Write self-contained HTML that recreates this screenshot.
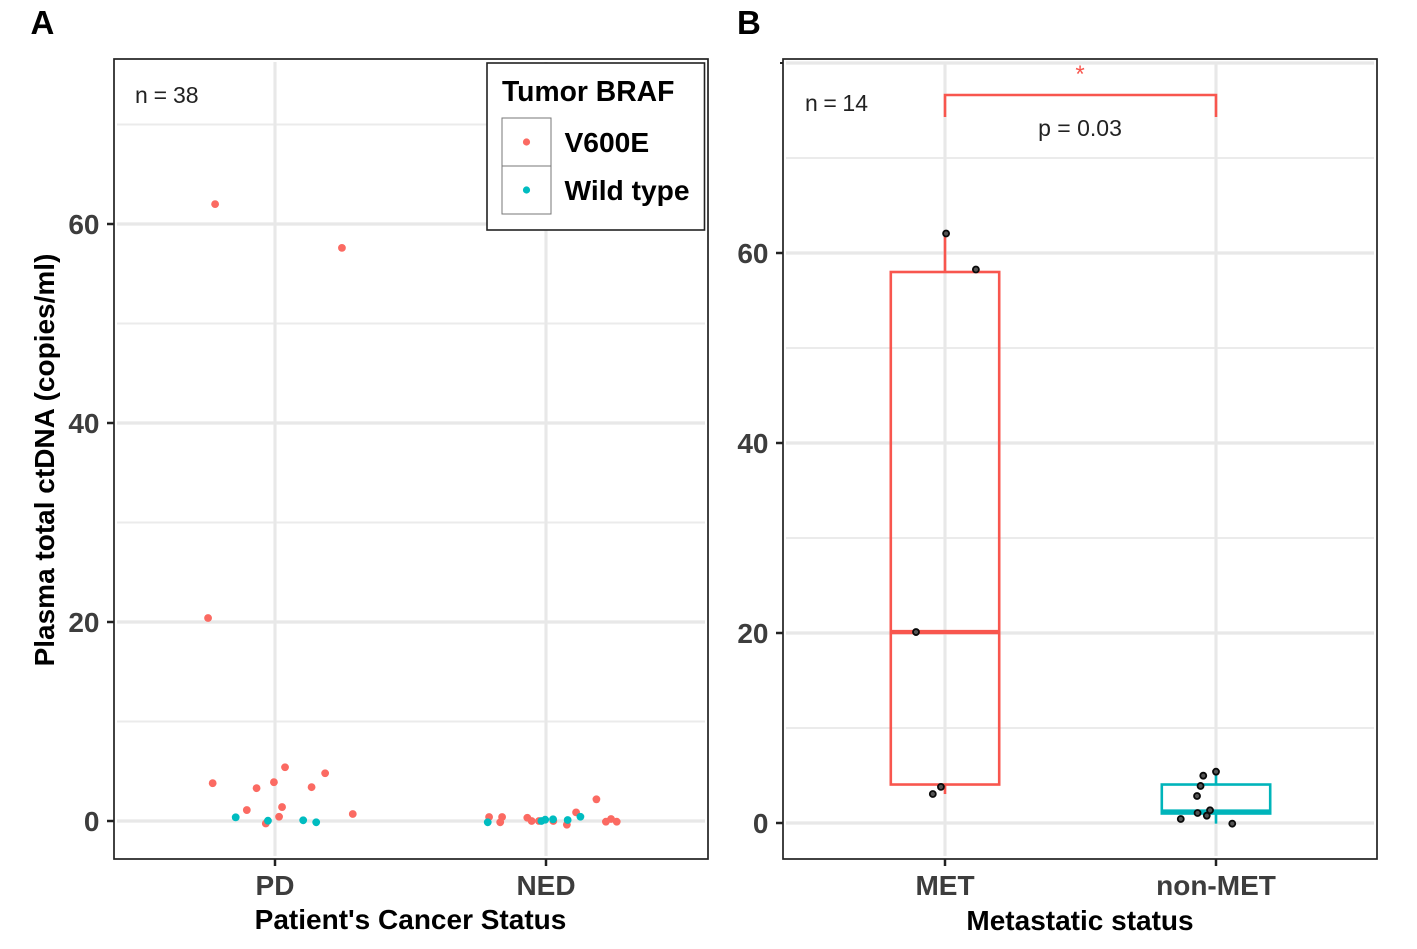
<!DOCTYPE html>
<html>
<head>
<meta charset="utf-8">
<title>Plasma total ctDNA by cancer and metastatic status</title>
<style>
html,body{margin:0;padding:0;background:#fff;}
svg{display:block;}
text{font-family:"Liberation Sans",sans-serif;}
.tick{font-weight:700;font-size:28px;fill:#3d3d3d;}
.title{font-weight:700;font-size:28px;fill:#000;}
.ann{font-size:23px;fill:#222;}
.letter{font-weight:700;font-size:33px;fill:#000;}
</style>
</head>
<body>
<svg id="fig" xmlns="http://www.w3.org/2000/svg" width="1417" height="949" viewBox="0 0 1417 949">
  <rect x="0" y="0" width="1417" height="949" fill="#fff"/>
  <text class="letter" x="30.5" y="34">A</text>
  <text class="letter" x="737" y="34">B</text>
  <g id="panelA"></g>
  <g id="panelB"></g>

  <text class="title" transform="translate(54,460) rotate(-90)" text-anchor="middle">Plasma total ctDNA (copies/ml)</text>
  <text class="title" x="410.5" y="929" text-anchor="middle">Patient's Cancer Status</text>
  <text class="title" x="1080" y="930" text-anchor="middle">Metastatic status</text>
  <text class="ann" x="135" y="103" word-spacing="-0.5">n = 38</text>
  <text class="ann" x="805" y="111" word-spacing="-0.8">n = 14</text>

  <g>
    <path d="M945 117V95H1216V117" fill="none" stroke="#f8564e" stroke-width="2.6"/>
    <text x="1080" y="82" text-anchor="middle" font-size="24" fill="#f8564e">*</text>
    <text class="ann" x="1080" y="136" text-anchor="middle">p = 0.03</text>
  </g>

  <g id="legend">
    <rect x="487" y="63" width="217.5" height="167" fill="#fff" stroke="#222" stroke-width="1.6"/>
    <text x="502" y="101" font-size="28.3" font-weight="700" fill="#000">Tumor BRAF</text>
    <rect x="502" y="118" width="49" height="48" fill="#fff" stroke="#777" stroke-width="1"/>
    <rect x="502" y="166" width="49" height="48" fill="#fff" stroke="#777" stroke-width="1"/>
    <circle cx="526.5" cy="142" r="3.6" fill="#fb6a62"/>
    <circle cx="526.5" cy="190" r="3.6" fill="#00bcc0"/>
    <text x="564.5" y="152" font-size="28.2" font-weight="700" fill="#000">V600E</text>
    <text x="564.5" y="200" font-size="28.2" font-weight="700" fill="#000">Wild type</text>
  </g>
</svg>
<script>
// Panel A data: category index, horizontal jitter (fraction of a category), copies/ml
const categoriesA = ["PD", "NED"];
const yTicks = [0, 20, 40, 60];
const minorTicksA = [10, 30, 50, 70];
const minorTicksB = [10, 30, 50, 70];
const majorExtraB = [80];

const v600eCat = [0,0,0,0,0,0,0,0,0,0,0,0,0,0,1,1,1,1,1,1,1,1,1,1,1,1,1];
const v600eJitter = [-0.23,0.037,0.185,-0.004,-0.068,0.135,0.026,-0.104,0.015,0.287,-0.034,-0.221,0.247,-0.247,-0.21,-0.162,-0.169,-0.069,-0.053,-0.026,0.027,0.077,0.111,0.186,0.221,0.24,0.261];
const v600eValues = [3.8,5.4,4.8,3.9,3.3,3.4,1.4,1.1,0.43,0.7,-0.25,62.0,57.6,20.4,0.4,0.4,-0.13,0.33,0,0,0,-0.37,0.87,2.18,-0.07,0.2,-0.07];

const wildCat = [0,0,0,0,1,1,1,1,1,1];
const wildJitter = [-0.145,-0.026,0.104,0.152,-0.215,-0.017,-0.003,0.026,0.08,0.127];
const wildValues = [0.37,0.03,0.07,-0.13,-0.13,0,0.13,0.17,0.1,0.43];

// Panel B data
const categoriesB = ["MET", "non-MET"];
const boxQ1 = [4.05, 1.0];
const boxMedian = [20.1, 1.2];
const boxQ3 = [58.0, 4.05];
const whiskerLow = [3.05, -0.07];
const whiskerHigh = [62.0, 5.4];
const boxColors = ["#f8564e", "#00b4ba"];

const pointCatB = [0,0,0,0,0,1,1,1,1,1,1,1,1,1];
const pointJitterB = [0.004,0.114,-0.107,-0.015,-0.045,0,-0.047,-0.057,-0.07,-0.068,-0.022,-0.034,-0.13,0.06];
const pointValuesB = [62.05,58.26,20.1,3.8,3.05,5.4,4.98,3.9,2.84,1.05,1.34,0.77,0.42,-0.07];

const NS = "http://www.w3.org/2000/svg";
function mk(tag, attrs, parent, text) {
  const el = document.createElementNS(NS, tag);
  for (const k in attrs) el.setAttribute(k, attrs[k]);
  if (text !== undefined) el.textContent = text;
  parent.appendChild(el);
  return el;
}
// axis functions
const xA = (cat, j) => 275 + (cat + (j || 0)) * 271;
const yA = v => 821 - v * 9.95;
const xB = (cat, j) => 945 + (cat + (j || 0)) * 271;
const yB = v => 823 - v * 9.5;

function drawPanel(g, left, right, xFn, yFn, cats, minors, majors, suffix) {
  const top = 59, bottom = 859;
  minors.forEach(v => {
    const el = mk("line", {x1: left + 3, x2: right - 3, y1: yFn(v), y2: yFn(v), stroke: "#ebebeb", "stroke-width": 2}, g);
    
    
  });
  majors.forEach(v => {
    const el = mk("line", {x1: left + 3, x2: right - 3, y1: yFn(v), y2: yFn(v), stroke: "#e8e8e8", "stroke-width": 3.2}, g);
    
    
  });
  cats.forEach((c, i) => {
    const el = mk("line", {x1: xFn(i), x2: xFn(i), y1: top + 3, y2: bottom - 3, stroke: "#e8e8e8", "stroke-width": 3.2}, g);
    
    
  });
  const frame = mk("rect", {x: left, y: top, width: right - left, height: bottom - top, fill: "none", stroke: "#222", "stroke-width": 1.7}, g);
  
  
  yTicks.forEach(v => {
    const t = mk("line", {x1: left - 7, x2: left, y1: yFn(v), y2: yFn(v), stroke: "#222", "stroke-width": 2.5}, g);
    
    
    const l = mk("text", {class: "tick", x: left - 14.5, y: yFn(v) + 10, "text-anchor": "end"}, g, String(v));
    
    
  });
  cats.forEach((c, i) => {
    const t = mk("line", {x1: xFn(i), x2: xFn(i), y1: bottom, y2: bottom + 7, stroke: "#222", "stroke-width": 2.5}, g);
    
    
    const l = mk("text", {class: "tick", x: xFn(i), y: bottom + 36, "text-anchor": "middle"}, g, c);
    
    
  });
}

const gA = document.getElementById("panelA");
const gB = document.getElementById("panelB");
drawPanel(gA, 114, 708, xA, yA, categoriesA, minorTicksA, yTicks, "a");
drawPanel(gB, 783, 1377, xB, yB, categoriesB, minorTicksB, yTicks.concat(majorExtraB), "b");

// Tiny stray tick at the top of panel B
const strayTick = mk("line", {x1: 780, x2: 783, y1: yB(majorExtraB[0]), y2: yB(majorExtraB[0]), stroke: "#222", "stroke-width": 2}, gB);



// Panel A points
v600eValues.forEach((v, i) => {
  const el = mk("circle", {cx: xA(v600eCat[i], v600eJitter[i]), cy: yA(v), r: 3.9, fill: "#fb6a62"}, gA);
  
  
});
wildValues.forEach((v, i) => {
  const el = mk("circle", {cx: xA(wildCat[i], wildJitter[i]), cy: yA(v), r: 3.9, fill: "#00bcc0"}, gA);
  
  
});

// Panel B boxes
categoriesB.forEach((c, i) => {
  const col = boxColors[i];
  const hw = 0.2;
  const wHi = mk("line", {x1: xB(i), x2: xB(i), y1: yB(boxQ3[i]), y2: yB(whiskerHigh[i]), stroke: col, "stroke-width": 2.6}, gB);
  
  
  const wLo = mk("line", {x1: xB(i), x2: xB(i), y1: yB(boxQ1[i]), y2: yB(whiskerLow[i]), stroke: col, "stroke-width": 2.6}, gB);
  
  
  const box = mk("rect", {x: xB(i, -hw), y: yB(boxQ3[i]), width: xB(i, hw) - xB(i, -hw), height: yB(boxQ1[i]) - yB(boxQ3[i]), fill: "none", stroke: col, "stroke-width": 2.6}, gB);
  
  
  const med = mk("line", {x1: xB(i, -hw), x2: xB(i, hw), y1: yB(boxMedian[i]), y2: yB(boxMedian[i]), stroke: col, "stroke-width": 4.4}, gB);
  
  
});

// Panel B points
pointValuesB.forEach((v, i) => {
  const el = mk("circle", {cx: xB(pointCatB[i], pointJitterB[i]), cy: yB(v), r: 3, fill: "#555", stroke: "#0a0a0a", "stroke-width": 1.8}, gB);
  
  
});
</script>
</body>
</html>
